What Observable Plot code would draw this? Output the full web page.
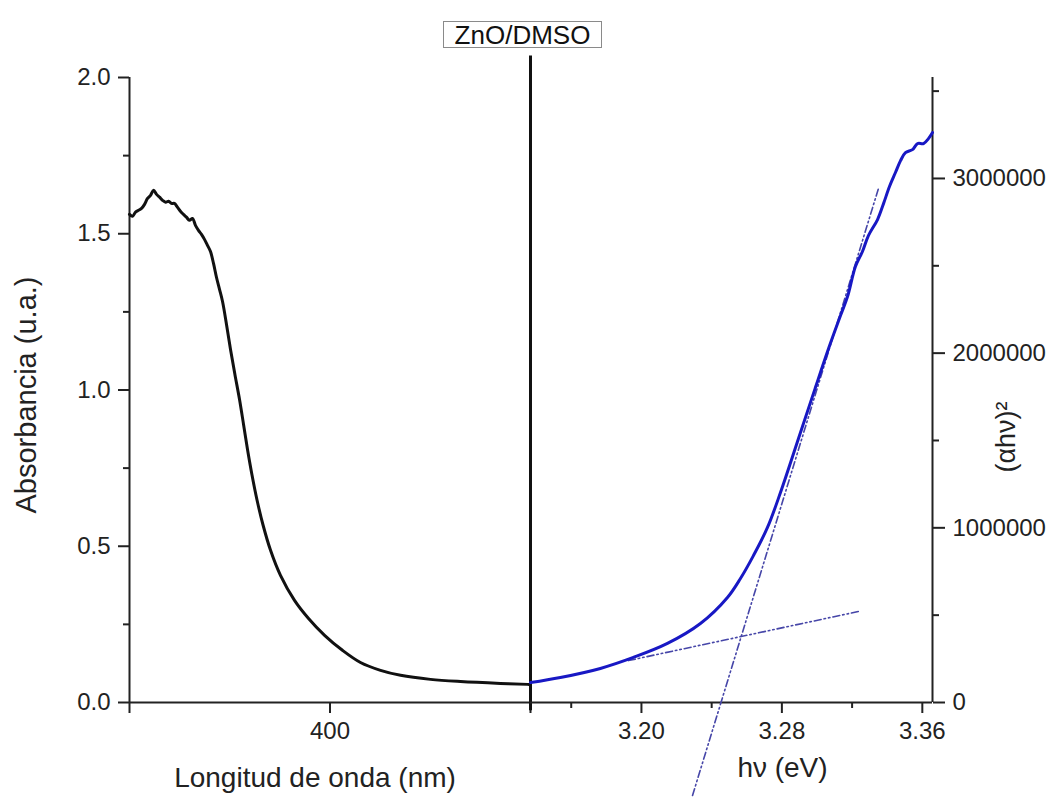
<!DOCTYPE html>
<html>
<head>
<meta charset="utf-8">
<script src="https://cdn.jsdelivr.net/npm/d3@7"></script>
<script src="https://cdn.jsdelivr.net/npm/@observablehq/plot@0.6"></script>
<style>
  html, body { margin: 0; padding: 0; background: #fff; }
  #figure { position: relative; width: 1046px; height: 798px; font-family: "Liberation Sans", Arial, sans-serif; color: #222; }
  #header { position: relative; width: 1046px; height: 52px; }
  #title {
    position: absolute; left: 443px; top: 21px; width: 157px; height: 25px;
    border: 1px solid #8a8a8a; font-size: 26px; line-height: 26px; text-align: center; color: #111;
  }
  #panels { position: relative; width: 1046px; height: 746px; }
  #panels svg { position: absolute; left: 0; top: 0; }
</style>
</head>
<body>
<div id="figure">
  <div id="header"><div id="title">ZnO/DMSO</div></div>
  <div id="panels"></div>
</div>
<script>
// UV-Vis absorbance spectrum (left panel)
const wavelength = [
  300.0, 301.5, 303.0, 304.5, 306.0, 307.5, 309.0, 310.5, 312.0, 313.5,
  315.0, 316.5, 318.0, 319.5, 320.9, 322.4, 323.9, 325.4, 326.9, 328.4,
  329.9, 331.4, 332.9, 334.4, 335.9, 337.4, 338.9, 340.4, 341.9, 343.4,
  344.9, 346.4, 348.4, 350.4, 352.6, 354.9, 356.9, 358.9, 361.1, 363.6,
  366.6, 370.3, 375.3, 382.3, 389.3, 397.3, 406.2, 415.2, 425.2, 435.2,
  450.1, 465.1, 485.0, 498.5, 500.0
];
const absorbance = [
  1.562, 1.556, 1.569, 1.575, 1.581, 1.594, 1.613, 1.623, 1.639, 1.626,
  1.617, 1.607, 1.601, 1.604, 1.597, 1.597, 1.585, 1.572, 1.562, 1.553,
  1.543, 1.549, 1.527, 1.511, 1.498, 1.482, 1.463, 1.443, 1.405, 1.360,
  1.322, 1.283, 1.209, 1.129, 1.049, 0.969, 0.889, 0.808, 0.728, 0.648,
  0.568, 0.488, 0.407, 0.327, 0.269, 0.215, 0.167, 0.128, 0.103, 0.087,
  0.074, 0.067, 0.061, 0.058, 0.058
];

// Tauc plot (right panel)
const photonEnergy = [
  3.1368, 3.1538, 3.1766, 3.1954, 3.2148, 3.2336, 3.2490, 3.2564, 3.2638, 3.2718,
  3.2792, 3.2906, 3.2991, 3.3066, 3.3134, 3.3174, 3.3219, 3.3259, 3.3293, 3.3345,
  3.3379, 3.3413, 3.3447, 3.3476, 3.3504, 3.3544, 3.3573, 3.3607, 3.3635, 3.3658
];
const tauc = [
  114000, 143000, 195000, 258000, 338000, 452000, 601000, 710000, 841000, 1002000,
  1202000, 1546000, 1803000, 2026000, 2215000, 2324000, 2496000, 2582000, 2673000, 2765000,
  2856000, 2954000, 3034000, 3102000, 3148000, 3165000, 3200000, 3200000, 3228000, 3263000
];

// Linear fits: absorption edge and baseline
const edgeFitEnergy = [3.2291, 3.3350];
const edgeFitTauc = [-532000, 2942000];
const baseFitEnergy = [3.1926, 3.3236];
const baseFitTauc = [240000, 521000];

// Axis ticks
const absTicks = [0, 0.5, 1.0, 1.5, 2.0];
const absMinorTicks = [0.25, 0.75, 1.25, 1.75];
const nmTicks = [300, 400, 500];
const nmLabelled = [400];
const evTicks = [3.20, 3.28, 3.36];
const evMinorTicks = [3.16, 3.24, 3.32];
const taucTicks = [0, 1000000, 2000000, 3000000];
const taucMinorTicks = [500000, 1500000, 2500000, 3500000];

const absTable = wavelength.map((w, i) => ({w, a: absorbance[i]}));
const taucTable = photonEnergy.map((e, i) => ({e, t: tauc[i]}));
const edgeFit = edgeFitEnergy.map((e, i) => ({e, t: edgeFitTauc[i]}));
const baseFit = baseFitEnergy.map((e, i) => ({e, t: baseFitTauc[i]}));

const W = 1046, H = 746;
const font = '"Liberation Sans", Arial, sans-serif';
const ink = "#222";
const tickFont = 24;
const evDomain = [3.1368, 3.3658];
const taucDomain = [0, 3578000];
const dash = "7 3 1.5 3 1.5 3";

const left = Plot.plot({
  width: W, height: H,
  marginLeft: 129, marginRight: W - 530, marginTop: 25, marginBottom: 96,
  x: {domain: [300, 500]},
  y: {domain: [0, 2]},
  style: {fontFamily: font, fontSize: "23px", color: ink, background: "transparent", overflow: "visible"},
  marks: [
    Plot.ruleY([0], {stroke: ink, strokeWidth: 2}),
    Plot.ruleX([300], {stroke: ink, strokeWidth: 2}),
    Plot.axisY({ticks: absTicks, tickFormat: ".1f", tickSize: 11, tickPadding: 8, strokeWidth: 2, fontSize: tickFont, label: null}),
    Plot.axisY({ticks: absMinorTicks, tickFormat: () => "", tickSize: 6, strokeWidth: 2, label: null}),
    Plot.axisX({ticks: nmTicks, tickFormat: d => nmLabelled.includes(d) ? String(d) : "", tickSize: 11, tickPadding: 8, strokeWidth: 2, fontSize: tickFont, label: null}),
    Plot.line(absTable, {x: "w", y: "a", stroke: "#111", strokeWidth: 3, curve: "catmull-rom"}),
    Plot.ruleX([500], {y1: -0.026, y2: 2.069, stroke: "#111", strokeWidth: 3}),
    Plot.text(["Absorbancia (u.a.)"], {frameAnchor: "left", rotate: -90, dx: -103, dy: 5, textAnchor: "middle", lineAnchor: "middle", fontSize: 29, fill: ink}),
    Plot.text(["Longitud de onda (nm)"], {frameAnchor: "bottom", dx: -15, dy: 76, textAnchor: "middle", lineAnchor: "middle", fontSize: 28, fill: ink})
  ]
});

const right = Plot.plot({
  width: W, height: H,
  marginLeft: 530, marginRight: W - 932, marginTop: 25, marginBottom: 96,
  x: {domain: evDomain},
  y: {domain: taucDomain},
  style: {fontFamily: font, fontSize: "23px", color: ink, background: "transparent", overflow: "visible"},
  marks: [
    Plot.ruleY([0], {stroke: ink, strokeWidth: 2}),
    Plot.ruleX([evDomain[1]], {stroke: ink, strokeWidth: 2}),
    Plot.axisY({anchor: "right", ticks: taucTicks, tickFormat: d => String(d), tickSize: 12, tickPadding: 8, strokeWidth: 2, fontSize: tickFont, label: null}),
    Plot.axisY({anchor: "right", ticks: taucMinorTicks, tickFormat: () => "", tickSize: 6, strokeWidth: 2, label: null}),
    Plot.axisX({ticks: evTicks, tickFormat: ".2f", tickSize: 11, tickPadding: 8, strokeWidth: 2, fontSize: tickFont, label: null}),
    Plot.axisX({ticks: evMinorTicks, tickFormat: () => "", tickSize: 6, strokeWidth: 2, label: null}),
    Plot.line(baseFit, {x: "e", y: "t", stroke: "#4646a8", strokeWidth: 1.6, strokeDasharray: dash}),
    Plot.line(edgeFit, {x: "e", y: "t", stroke: "#4646a8", strokeWidth: 1.6, strokeDasharray: dash}),
    Plot.line(taucTable, {x: "e", y: "t", stroke: "#1818c4", strokeWidth: 3, curve: "catmull-rom"}),
    Plot.text(["hν (eV)"], {frameAnchor: "bottom", dx: 51, dy: 66, textAnchor: "middle", lineAnchor: "middle", fontSize: 28, fill: ink}),
    Plot.text(["(αhν)²"], {frameAnchor: "right", rotate: -90, dx: 74, dy: 47, textAnchor: "middle", lineAnchor: "middle", fontSize: 27, fill: ink})
  ]
});

const panels = document.getElementById("panels");
panels.appendChild(left);
panels.appendChild(right);
</script>
</body>
</html>
